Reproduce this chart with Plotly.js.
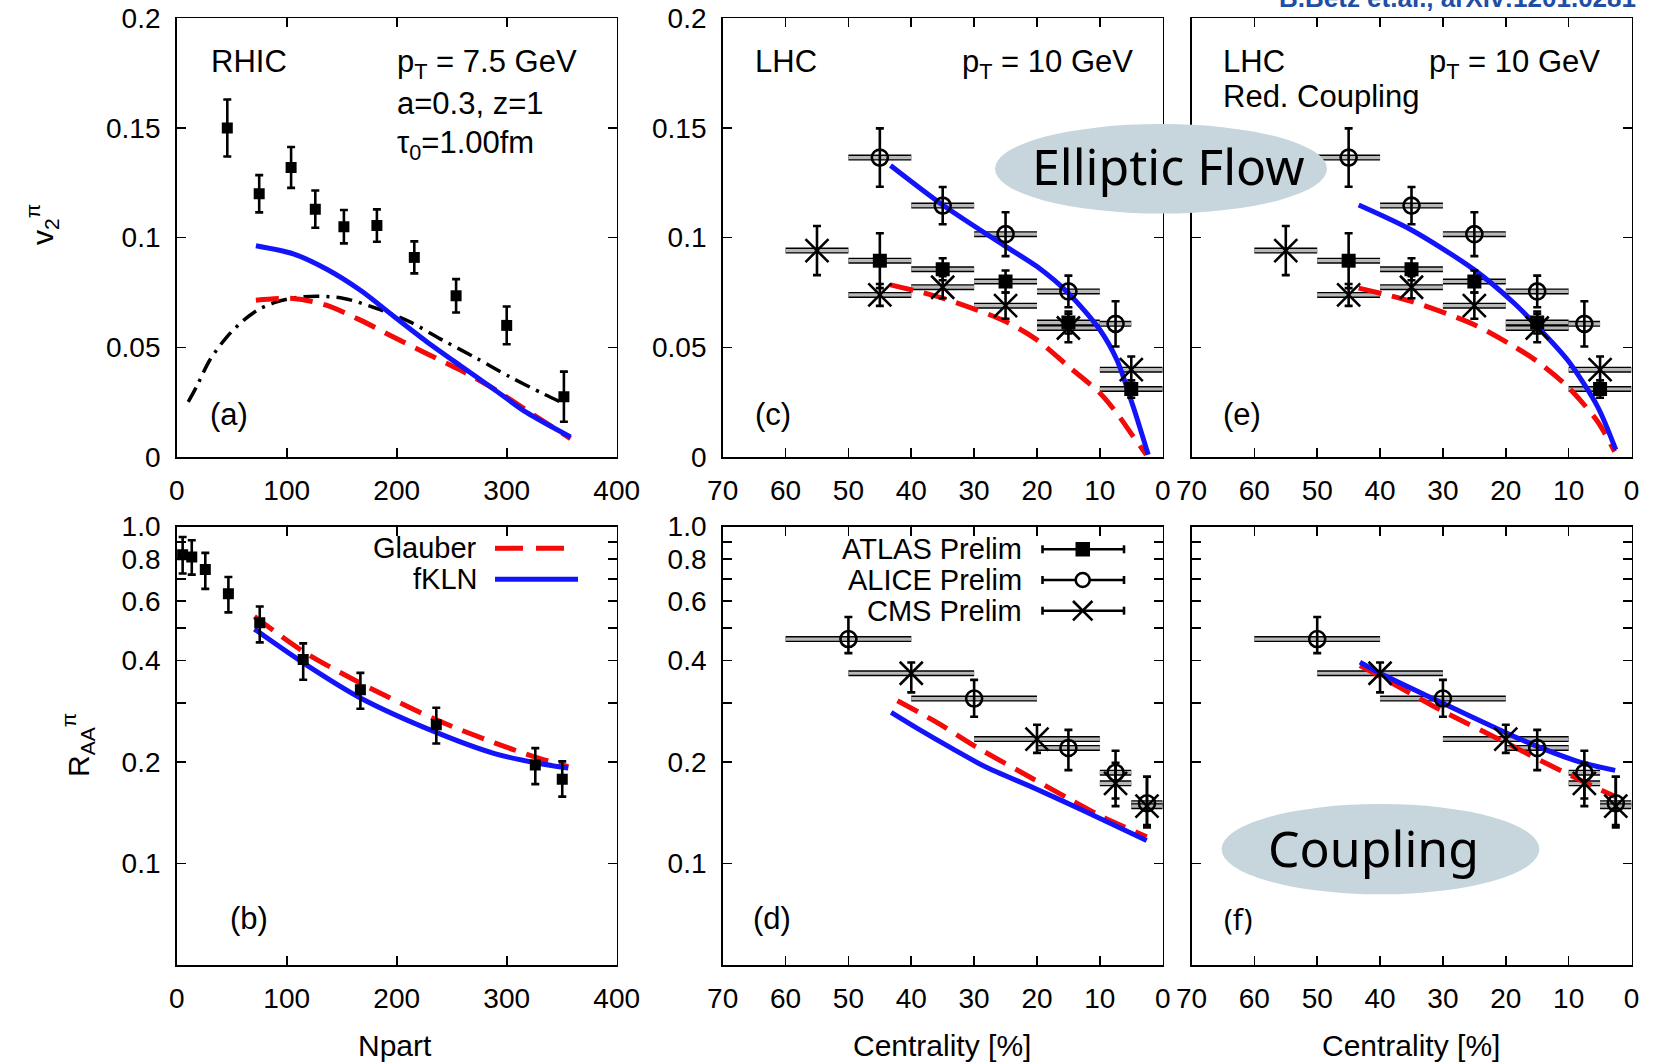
<!DOCTYPE html>
<html><head><meta charset="utf-8">
<script src="https://cdn.plot.ly/plotly-3.0.1.min.js"></script>
<style>html,body{margin:0;padding:0;background:#fff}#chart{width:1656px;height:1062px}</style>
</head><body><div id="chart"></div>
<script>
// ---------------- DATA ----------------
// (a) RHIC v2 vs Npart
const rhicNpart = [46, 75, 104, 126, 152, 182, 216, 254, 300, 352];
const rhicV2 = [0.150, 0.120, 0.132, 0.113, 0.105, 0.1055, 0.091, 0.0735, 0.060, 0.0275];
const rhicV2Err = [0.013, 0.0085, 0.0093, 0.0085, 0.0076, 0.0074, 0.0073, 0.0076, 0.0086, 0.0114];
const aFklnNpart = [72, 106, 136, 167, 197, 227, 258, 288, 318, 358];
const aFklnV2 = [0.0963, 0.0926, 0.0857, 0.0760, 0.0643, 0.0527, 0.0416, 0.0310, 0.0203, 0.0091];
const aGlauberNpart = [72, 106, 136, 167, 197, 227, 258, 288, 318, 358];
const aGlauberV2 = [0.0715, 0.0723, 0.0692, 0.0624, 0.0547, 0.0472, 0.0396, 0.0312, 0.0213, 0.0084];
const aOtherNpart = [10.5, 18, 30, 45.5, 61, 76, 91, 106, 127, 152, 182, 212, 242, 273, 303, 333, 352];
const aOtherV2 = [0.0251, 0.032, 0.0441, 0.0547, 0.0624, 0.0677, 0.0707, 0.0725, 0.0733, 0.0723, 0.0677, 0.0616, 0.0532, 0.0449, 0.0365, 0.0289, 0.0244];

// (c),(e) LHC v2 vs centrality
const atlasV2Cent = [45, 35, 25, 15, 5];
const atlasV2 = [0.0895, 0.0856, 0.080, 0.0613, 0.031];
const atlasV2Err = [0.0125, 0.005, 0.005, 0.005, 0.004];
const atlasV2CentErr = [5, 5, 5, 5, 5];
const aliceV2Cent = [45, 35, 25, 15, 7.5];
const aliceV2 = [0.1365, 0.1146, 0.1016, 0.0755, 0.0607];
const aliceV2Err = [0.0133, 0.0085, 0.010, 0.0072, 0.0103];
const aliceV2CentErr = [5, 5, 5, 5, 2.5];
const cmsV2Cent = [55, 45, 35, 25, 15, 5];
const cmsV2 = [0.0941, 0.0739, 0.0774, 0.069, 0.0588, 0.0398];
const cmsV2Err = [0.0112, 0.005, 0.005, 0.006, 0.0065, 0.006];
const cmsV2CentErr = [5, 5, 5, 5, 5, 5];
const cFklnCent = [43.3, 35, 25, 20, 15, 10, 7.3, 4.7, 2.3];
const cFklnV2 = [0.1329, 0.1149, 0.096, 0.0868, 0.0747, 0.058, 0.0443, 0.023, 0.001];
const cGlauberCent = [43.3, 35, 25, 20, 15, 10, 7.3, 4.7, 2.6];
const cGlauberV2 = [0.0785, 0.0724, 0.0618, 0.0534, 0.0413, 0.0292, 0.020, 0.0094, 0.001];
const eFklnCent = [43.4, 35, 25, 18.7, 15, 10.2, 5.4, 2.5];
const eFklnV2 = [0.1149, 0.1035, 0.0853, 0.0702, 0.0595, 0.0443, 0.023, 0.0033];
const eGlauberCent = [43.4, 35, 25, 18.7, 15, 10.2, 5.4, 2.7];
const eGlauberV2 = [0.077, 0.0709, 0.0603, 0.0504, 0.0436, 0.0322, 0.0162, 0.0025];

// (b) RHIC RAA vs Npart
const rhicRaaNpart = [5.4, 13.7, 26, 47, 75.5, 115, 167, 236, 326, 350.5];
const rhicRaa = [0.825, 0.812, 0.745, 0.632, 0.518, 0.403, 0.328, 0.258, 0.196, 0.178];
const rhicRaaErrUp = [0.106, 0.098, 0.090, 0.076, 0.061, 0.047, 0.040, 0.032, 0.024, 0.023];
const rhicRaaErrDown = [0.100, 0.092, 0.092, 0.076, 0.065, 0.052, 0.040, 0.031, 0.024, 0.020];
const bGlauberNpart = [70.7, 115, 167, 236, 289, 326, 356];
const bGlauberRaa = [0.541, 0.426, 0.343, 0.267, 0.228, 0.207, 0.194];
const bFklnNpart = [70.7, 115, 167, 236, 289, 326, 356];
const bFklnRaa = [0.496, 0.394, 0.310, 0.245, 0.212, 0.199, 0.192];

// (d),(f) LHC RAA vs centrality
const aliceRaaCent = [50, 30, 15, 7.5, 2.5];
const aliceRaa = [0.4635, 0.3087, 0.2203, 0.186, 0.151];
const aliceRaaErrUp = [0.0755, 0.042, 0.029, 0.030, 0.030];
const aliceRaaErrDown = [0.0425, 0.036, 0.031, 0.030, 0.021];
const aliceRaaCentErr = [10, 10, 5, 2.5, 2.5];
const cmsRaaCent = [40, 20, 7.5, 2.5];
const cmsRaa = [0.367, 0.234, 0.173, 0.148];
const cmsRaaErrUp = [0.028, 0.024, 0.026, 0.033];
const cmsRaaErrDown = [0.045, 0.021, 0.025, 0.020];
const cmsRaaCentErr = [10, 10, 2.5, 2.5];
const dGlauberCent = [42.2, 36.2, 29.9, 20.3, 15, 9.7, 2.55];
const dGlauberRaa = [0.304, 0.264, 0.223, 0.177, 0.156, 0.138, 0.120];
const dFklnCent = [43.2, 38.9, 33.6, 28.3, 20.3, 12.4, 2.55];
const dFklnRaa = [0.281, 0.251, 0.220, 0.194, 0.167, 0.143, 0.117];
const fFklnCent = [43.2, 40, 30, 19.9, 15.1, 8.2, 2.6];
const fFklnRaa = [0.396, 0.367, 0.299, 0.244, 0.223, 0.200, 0.189];
const fGlauberCent = [43.2, 40, 30, 19.9, 15.1, 8.2, 2.6];
const fGlauberRaa = [0.387, 0.359, 0.283, 0.228, 0.205, 0.177, 0.158];

// tick labels
const npartTicks = [0, 100, 200, 300, 400];
const centTicks = [70, 60, 50, 40, 30, 20, 10, 0];
const v2Ticks = [0, 0.05, 0.1, 0.15, 0.2];
const v2TickText = ['0', '0.05', '0.1', '0.15', '0.2'];
const raaTicks = [0.1, 0.2, 0.4, 0.6, 0.8, 1.0];
const raaTickText = ['0.1', '0.2', '0.4', '0.6', '0.8', '1.0'];
const raaMinorTicks = [0.3, 0.5, 0.7, 0.9];

// ---------------- STYLE / LAYOUT ----------------
const W = 1656, H = 1062;
const FONT = 'Liberation Sans, Arial, Helvetica, sans-serif';
const BLUE = 'rgb(20,20,250)', RED = 'rgb(245,10,10)', BOXGRAY = '#b8b8b8';
const px = v => v / W, py = v => 1 - v / H;
const colA = [176.7, 616.7], colC = [722.7, 1162.7], colE = [1191.5, 1631.5];
const rowT = [18.3, 457], rowB = [526.5, 965];
const dX = c => [px(c[0]), px(c[1])];
const dY = r => [py(r[1]), py(r[0])];

function baseAxis(extra) {
  return Object.assign({
    showline: true, linecolor: 'black', linewidth: 1.6, mirror: 'allticks',
    ticks: 'inside', ticklen: 9, tickwidth: 1.6, tickcolor: 'black',
    showgrid: false, zeroline: false, fixedrange: true,
    tickfont: {family: FONT, size: 28, color: 'black'}
  }, extra);
}
function xNpart(col, anchor) {
  return baseAxis({domain: dX(col), anchor, range: [0, 400], tickmode: 'array', tickvals: npartTicks, ticktext: npartTicks.map(String), ticklabelstandoff: 8});
}
function xCent(col, anchor) {
  return baseAxis({domain: dX(col), anchor, range: [70, 0], tickmode: 'array', tickvals: centTicks, ticktext: centTicks.map(String), ticklabelstandoff: 8});
}
function yV2(anchor, show) {
  return baseAxis({domain: dY(rowT), anchor, range: [0, 0.2], tickmode: 'array', tickvals: v2Ticks, ticktext: v2TickText, showticklabels: show, ticklabelstandoff: 9});
}
function yRaa(anchor, show) {
  return baseAxis({domain: dY(rowB), anchor, type: 'log', range: [Math.log10(0.05), 0], tickmode: 'array', tickvals: raaTicks, ticktext: raaTickText, showticklabels: show, ticklabelstandoff: 9,
    minor: {tickmode: 'array', tickvals: raaMinorTicks, ticks: 'inside', ticklen: 9, tickwidth: 1.6, tickcolor: 'black', showgrid: false}});
}

const traces = [];
function boxes(xa, ya, x, y, ex) {
  const common = {type: 'scatter', mode: 'markers', x, y, xaxis: xa, yaxis: ya, hoverinfo: 'skip',
    marker: {size: 2, color: 'rgba(0,0,0,0)'}};
  traces.push(Object.assign({}, common, {error_x: {type: 'data', array: ex, color: 'black', thickness: 6, width: 0}}));
  traces.push(Object.assign({}, common, {error_x: {type: 'data', array: ex, color: BOXGRAY, thickness: 3.2, width: 0}}));
}
function points(xa, ya, x, y, up, down, symbol, size) {
  const filled = symbol === 'square';
  traces.push({type: 'scatter', mode: 'markers', x, y, xaxis: xa, yaxis: ya,
    marker: {symbol, size, color: 'black', line: {color: 'black', width: filled ? 0 : 2.6}},
    error_y: {type: 'data', array: up, arrayminus: down || up, symmetric: !down, color: 'black', thickness: 2.6, width: 4}});
}
function curve(xa, ya, x, y, color, dash, width) {
  traces.push({type: 'scatter', mode: 'lines', x, y, xaxis: xa, yaxis: ya, hoverinfo: 'skip',
    line: {color, width: width || 5, dash: dash || 'solid', shape: 'spline', smoothing: 0.8}});
}
const GDASH = '23px,11px';

// (a)
curve('x', 'y', aOtherNpart, aOtherV2, 'black', '16px,7px,3px,7px', 3.5);
curve('x', 'y', aGlauberNpart, aGlauberV2, RED, GDASH, 5);
curve('x', 'y', aFklnNpart, aFklnV2, BLUE, 'solid', 5);
points('x', 'y', rhicNpart, rhicV2, rhicV2Err, null, 'square', 11);

// (c) and (e)
function lhcV2(xa, ya, fx, fy, gx, gy) {
  boxes(xa, ya, cmsV2Cent, cmsV2, cmsV2CentErr);
  boxes(xa, ya, atlasV2Cent, atlasV2, atlasV2CentErr);
  boxes(xa, ya, aliceV2Cent, aliceV2, aliceV2CentErr);
  curve(xa, ya, gx, gy, RED, GDASH, 5);
  curve(xa, ya, fx, fy, BLUE, 'solid', 5);
  points(xa, ya, cmsV2Cent, cmsV2, cmsV2Err, null, 'x-thin-open', 23);
  points(xa, ya, atlasV2Cent, atlasV2, atlasV2Err, null, 'square', 14);
  points(xa, ya, aliceV2Cent, aliceV2, aliceV2Err, null, 'circle-open', 16);
}
lhcV2('x2', 'y2', cFklnCent, cFklnV2, cGlauberCent, cGlauberV2);
lhcV2('x3', 'y3', eFklnCent, eFklnV2, eGlauberCent, eGlauberV2);

// (b)
curve('x4', 'y4', bGlauberNpart, bGlauberRaa, RED, GDASH, 5);
curve('x4', 'y4', bFklnNpart, bFklnRaa, BLUE, 'solid', 5);
points('x4', 'y4', rhicRaaNpart, rhicRaa, rhicRaaErrUp, rhicRaaErrDown, 'square', 11);

// (d) and (f)
function lhcRaa(xa, ya, fx, fy, gx, gy) {
  boxes(xa, ya, aliceRaaCent, aliceRaa, aliceRaaCentErr);
  boxes(xa, ya, cmsRaaCent, cmsRaa, cmsRaaCentErr);
  curve(xa, ya, gx, gy, RED, GDASH, 5);
  curve(xa, ya, fx, fy, BLUE, 'solid', 5);
  points(xa, ya, cmsRaaCent, cmsRaa, cmsRaaErrUp, cmsRaaErrDown, 'x-thin-open', 23);
  points(xa, ya, aliceRaaCent, aliceRaa, aliceRaaErrUp, aliceRaaErrDown, 'circle-open', 16);
}
lhcRaa('x5', 'y5', dFklnCent, dFklnRaa, dGlauberCent, dGlauberRaa);
lhcRaa('x6', 'y6', fFklnCent, fFklnRaa, fGlauberCent, fGlauberRaa);

// ---------------- ANNOTATIONS & DECOR ----------------
function ann(text, x, y, o) {
  return Object.assign({text, x: px(x), y: py(y), xref: 'paper', yref: 'paper', showarrow: false,
    xanchor: 'left', yanchor: 'middle', borderpad: 0, font: {family: FONT, size: 31, color: 'black'}}, o || {});
}
const TITLEFONT = {family: FONT, size: 30, color: 'black'};
const LEGFONT = {family: FONT, size: 29, color: 'black'};
const annotations = [
  ann('RHIC', 210, 61.7),
  ann('p<sub>T</sub> = 7.5 GeV', 395.5, 64),
  ann('a=0.3, z=1', 395.5, 103.3),
  ann('τ<sub>0</sub>=1.00fm', 395.5, 145),
  ann('(a)', 209, 415),
  ann('LHC', 753.5, 61.7),
  ann('p<sub>T</sub> = 10 GeV', 960.5, 64),
  ann('(c)', 753.5, 415),
  ann('LHC', 1221.5, 61.7),
  ann('Red. Coupling', 1221.5, 96.7),
  ann('p<sub>T</sub> = 10 GeV', 1428, 64),
  ann('(e)', 1221.5, 415),
  ann('(b)', 229, 918.3),
  ann('(d)', 751.5, 918.3),
  ann('(f)', 1223, 918.3, {font: {family: 'Noto Sans, sans-serif', size: 29, color: 'black'}}),
  ann('Glauber', 478, 548.3, {xanchor: 'right', font: LEGFONT}),
  ann('fKLN', 478, 579.3, {xanchor: 'right', font: LEGFONT}),
  ann('ATLAS Prelim', 1023, 549.3, {xanchor: 'right', font: LEGFONT}),
  ann('ALICE Prelim', 1023, 580, {xanchor: 'right', font: LEGFONT}),
  ann('CMS Prelim', 1023, 610.7, {xanchor: 'right', font: LEGFONT}),
  ann('v<sub>2</sub><sup>π</sup>', 42, 225, {xanchor: 'center', textangle: -90, font: TITLEFONT}),
  ann('R<sub>AA</sub><sup>π</sup>', 78, 745, {xanchor: 'center', textangle: -90, font: TITLEFONT}),
  ann('Npart', 395, 1045, {xanchor: 'center', font: TITLEFONT}),
  ann('Centrality [%]', 942, 1045, {xanchor: 'center', font: TITLEFONT}),
  ann('Centrality [%]', 1411, 1045, {xanchor: 'center', font: TITLEFONT}),
  ann('Elliptic Flow', 1168, 166, {xanchor: 'center', font: {family: 'Noto Sans, sans-serif', size: 50, color: 'black'}}),
  ann('Coupling', 1373, 848, {xanchor: 'center', font: {family: 'Noto Sans, sans-serif', size: 50, color: 'black'}}),
  ann('<b>B.Betz et.al., arXiv:1201.0281</b>', 1278, 14, {yanchor: 'bottom', font: {family: FONT, size: 26, color: '#1f4ea6'}})
];

function seg(x0, y0, x1, y1, color, width, dash) {
  return {type: 'line', xref: 'paper', yref: 'paper', x0: px(x0), y0: py(y0), x1: px(x1), y1: py(y1),
    line: {color, width, dash: dash || 'solid'}, layer: 'above'};
}
const ELL = '#c6d6dc';
const shapes = [
  {type: 'circle', xref: 'paper', yref: 'paper', x0: px(995), x1: px(1327), y0: py(213.5), y1: py(124), fillcolor: ELL, line: {width: 0}, layer: 'above'},
  {type: 'circle', xref: 'paper', yref: 'paper', x0: px(1221.7), x1: px(1539.3), y0: py(894.3), y1: py(804), fillcolor: ELL, line: {width: 0}, layer: 'above'},
  // legend keys (b)
  seg(495, 548.3, 577, 548.3, RED, 5, '28px,13px'),
  seg(495, 579.3, 578, 579.3, BLUE, 5),
];
// legend keys (d): line with end caps and marker
[549.3, 580, 610.7].forEach(function (yy) {
  shapes.push(seg(1042.5, yy, 1124, yy, 'black', 2.6));
  shapes.push(seg(1042.5, yy - 4, 1042.5, yy + 4, 'black', 2.6));
  shapes.push(seg(1124, yy - 4, 1124, yy + 4, 'black', 2.6));
});
shapes.push({type: 'rect', xref: 'paper', yref: 'paper', x0: px(1075.5), x1: px(1090), y0: py(556.5), y1: py(542), fillcolor: 'black', line: {width: 0}, layer: 'above'});
shapes.push({type: 'circle', xref: 'paper', yref: 'paper', x0: px(1075.7), x1: px(1089.7), y0: py(587), y1: py(573), fillcolor: 'white', line: {color: 'black', width: 2.6}, layer: 'above'});
shapes.push(seg(1073, 601, 1092.4, 620.4, 'black', 2.6));
shapes.push(seg(1073, 620.4, 1092.4, 601, 'black', 2.6));

const layout = {
  width: W, height: H, margin: {l: 0, r: 0, t: 0, b: 0},
  paper_bgcolor: 'white', plot_bgcolor: 'rgba(0,0,0,0)', showlegend: false,
  font: {family: FONT, color: 'black'},
  xaxis: xNpart(colA, 'y'), yaxis: yV2('x', true),
  xaxis2: xCent(colC, 'y2'), yaxis2: yV2('x2', true),
  xaxis3: xCent(colE, 'y3'), yaxis3: yV2('x3', false),
  xaxis4: xNpart(colA, 'y4'), yaxis4: yRaa('x4', true),
  xaxis5: xCent(colC, 'y5'), yaxis5: yRaa('x5', true),
  xaxis6: xCent(colE, 'y6'), yaxis6: yRaa('x6', false),
  annotations, shapes
};
Plotly.newPlot('chart', traces, layout, {displayModeBar: false, staticPlot: true});
</script></body></html>
